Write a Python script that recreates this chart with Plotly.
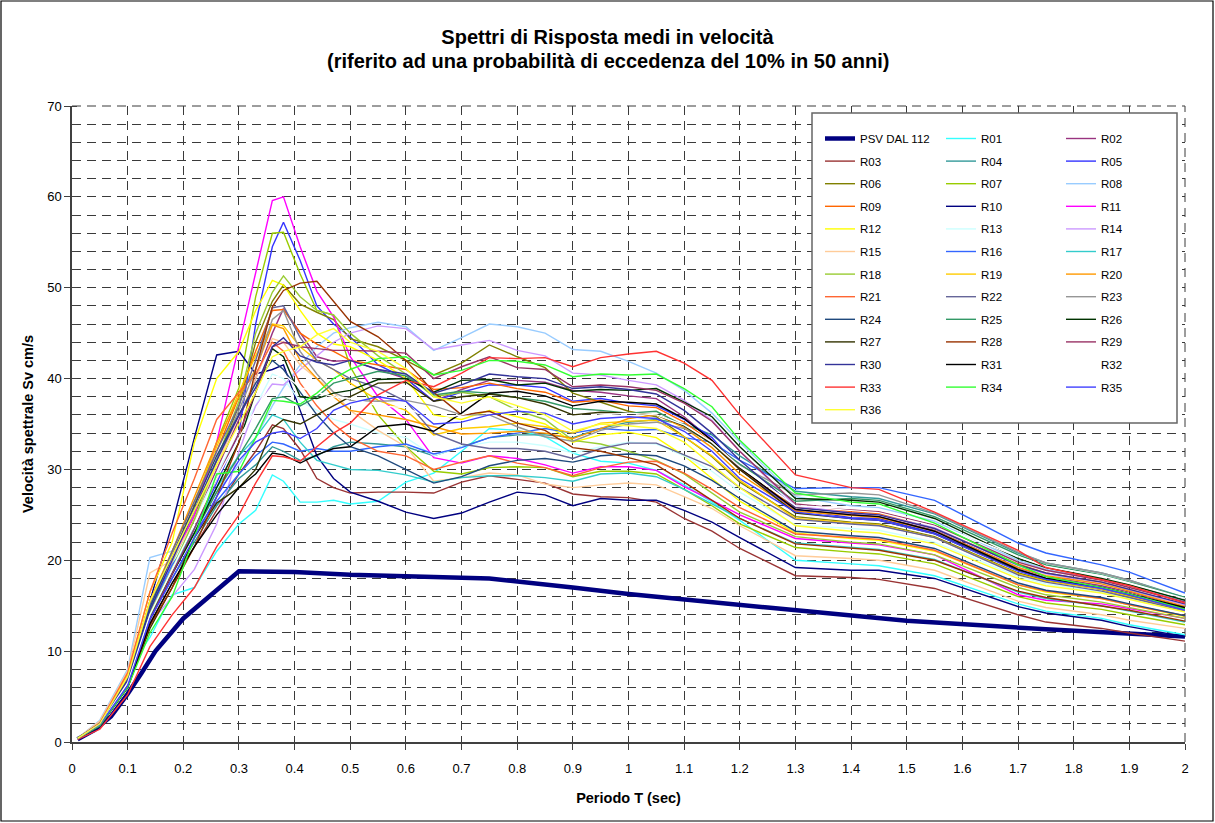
import plotly.graph_objects as go

T = [0.01, 0.05, 0.10, 0.14, 0.18, 0.22, 0.26, 0.30, 0.33, 0.36, 0.38, 0.41, 0.44, 0.47, 0.50,
     0.55, 0.60, 0.65, 0.70, 0.75, 0.80, 0.85, 0.90, 0.95, 1.00, 1.05, 1.10, 1.15, 1.20,
     1.30, 1.40, 1.45, 1.55, 1.70, 1.75, 1.85, 1.90, 2.00]

T_PSV = [0.01, 0.04, 0.07, 0.10, 0.125, 0.15, 0.20, 0.30, 0.40, 0.50, 0.60, 0.75, 0.90, 1.00, 1.25, 1.50, 1.75, 2.00]
PSV = [0.3, 1.3, 2.8, 5.3, 7.6, 10.0, 13.6, 18.8, 18.7, 18.4, 18.25, 18.0, 17.0, 16.3, 14.8, 13.35, 12.4, 11.6]

R01 = [0.4, 2.2, 7.9, 11.5, 16.2, 17.0, 21.0, 24.0, 25.5, 29.4, 28.7, 26.4, 26.4, 26.6, 26.2,
       26.5, 28.6, 29.6, 32.0, 34.5, 34.3, 33.6, 31.8, 30.9, 30.7, 29.9, 28.3, 26.4, 24.4,
       20.0, 19.6, 19.4, 18.3, 15.2, 14.4, 13.6, 12.9, 11.8]
R02 = [0.4, 1.9, 6.6, 14.0, 19.5, 24.5, 30.0, 35.5, 40.0, 45.0, 47.7, 45.0, 42.4, 41.9, 42.0,
       41.0, 40.0, 37.5, 38.8, 39.8, 39.8, 39.6, 38.7, 38.5, 38.1, 37.8, 35.8, 33.2, 30.0,
       25.5, 25.0, 24.8, 23.3, 19.2, 18.2, 17.2, 16.5, 14.9]
R03 = [0.4, 1.9, 6.2, 13.0, 17.5, 21.5, 25.5, 29.5, 32.0, 34.9, 34.5, 32.2, 29.0, 28.0, 27.4,
       27.5, 27.5, 27.4, 28.6, 29.3, 28.9, 28.5, 27.3, 27.0, 26.9, 26.4, 24.6, 23.2, 21.3,
       18.3, 18.1, 17.9, 16.9, 14.0, 13.2, 12.5, 12.0, 11.1]
R04 = [0.4, 1.9, 6.3, 13.5, 18.0, 22.0, 26.0, 29.0, 30.5, 32.5, 32.0, 31.0, 31.5, 32.5, 33.0,
       32.8, 32.5, 31.5, 32.5, 33.5, 33.8, 33.8, 33.5, 34.5, 35.2, 35.5, 35.0, 33.8, 31.5,
       27.6, 27.0, 26.8, 25.1, 20.8, 19.7, 18.6, 17.8, 15.9]
R05 = [0.4, 1.8, 6.0, 13.5, 18.5, 23.5, 28.5, 34.0, 46.0, 54.5, 57.2, 53.0, 48.0, 46.0, 44.6,
       41.5, 40.0, 37.5, 38.5, 39.3, 39.3, 39.0, 37.5, 37.8, 37.3, 37.0, 35.5, 33.5, 30.0,
       25.6, 24.7, 24.6, 23.0, 19.0, 18.0, 16.8, 16.0, 14.4]
R06 = [0.4, 1.9, 6.4, 14.0, 19.5, 25.0, 31.0, 37.0, 44.0, 48.5, 50.3, 48.2, 47.3, 46.5, 44.4,
       43.5, 42.0, 40.4, 41.7, 43.7, 42.4, 41.2, 38.4, 37.4, 36.4, 35.8, 33.6, 31.4, 28.6,
       24.8, 24.2, 24.0, 22.6, 18.6, 17.8, 16.8, 16.1, 14.6]
R07 = [0.4, 1.9, 6.5, 14.0, 19.5, 26.0, 33.0, 39.0, 49.0, 56.0, 56.1, 51.5, 47.5, 47.0, 41.3,
       36.0, 32.5, 29.8, 29.5, 30.2, 30.3, 30.2, 29.2, 29.8, 29.8, 29.5, 27.8, 26.0, 24.0,
       21.4, 20.9, 20.7, 19.6, 16.0, 15.3, 14.6, 14.0, 12.9]
R08 = [0.4, 2.4, 8.0, 20.3, 21.0, 23.5, 27.5, 30.5, 33.5, 37.0, 39.0, 41.5, 43.5, 45.0, 45.6,
       46.2, 45.7, 43.1, 44.5, 46.0, 45.7, 45.0, 43.2, 43.0, 41.9, 40.6, 38.7, 36.2, 33.0,
       27.0, 26.0, 25.8, 24.3, 20.0, 19.0, 17.9, 17.2, 15.5]
R09 = [0.4, 2.0, 6.9, 15.0, 20.5, 26.0, 32.0, 38.0, 43.0, 47.5, 47.6, 45.0, 43.8, 43.0, 42.0,
       41.5, 41.0, 38.8, 39.0, 39.5, 38.9, 38.5, 37.4, 37.6, 37.0, 36.8, 35.2, 33.0, 30.0,
       25.8, 25.3, 25.1, 23.5, 19.6, 18.6, 17.6, 16.8, 15.1]
R10 = [0.4, 2.0, 7.0, 15.5, 24.0, 33.5, 42.6, 43.0, 40.5, 41.0, 41.5, 36.5, 31.5, 29.0, 27.5,
       26.5, 25.3, 24.6, 25.2, 26.4, 27.5, 27.2, 26.0, 26.8, 26.6, 26.6, 25.5, 24.2, 22.5,
       19.2, 18.9, 18.9, 18.0, 14.9, 14.2, 13.4, 12.7, 11.6]
R11 = [0.4, 2.0, 6.8, 14.5, 20.0, 25.0, 33.0, 43.5, 51.5, 59.6, 60.0, 54.5, 49.6, 46.8, 42.4,
       38.0, 35.5, 31.3, 30.7, 31.5, 31.2, 30.5, 29.6, 30.3, 30.3, 29.9, 28.1, 26.6, 25.0,
       22.4, 21.9, 21.7, 20.6, 16.2, 15.6, 15.2, 14.7, 13.6]
R12 = [0.4, 2.1, 7.5, 16.5, 22.0, 33.0, 40.0, 43.0, 47.5, 50.8, 50.3, 47.5, 45.0, 43.8, 43.5,
       42.0, 40.0, 36.0, 35.5, 36.5, 35.8, 35.0, 33.0, 33.8, 34.1, 33.5, 31.5, 29.0, 26.5,
       23.0, 22.4, 22.2, 21.0, 17.3, 16.5, 15.8, 15.1, 13.8]
R13 = [0.4, 2.0, 6.8, 14.5, 19.5, 24.5, 29.5, 34.0, 37.0, 40.5, 40.0, 37.5, 36.5, 35.5, 35.0,
       34.0, 33.5, 31.5, 32.5, 33.0, 33.0, 32.6, 31.8, 32.5, 33.0, 32.8, 31.5, 29.8, 27.5,
       23.9, 23.5, 23.3, 22.0, 18.2, 17.4, 16.5, 15.8, 14.4]
R14 = [0.4, 1.9, 6.2, 13.0, 16.0, 19.0, 24.0, 32.0, 37.0, 39.4, 39.3, 41.0, 42.5, 44.0, 45.0,
       45.8, 45.5, 43.2, 43.7, 44.2, 43.1, 42.5, 40.6, 40.4, 39.8, 39.3, 37.6, 35.4, 32.0,
       26.0, 25.2, 25.0, 23.6, 19.4, 18.5, 17.4, 16.7, 15.1]
R15 = [0.4, 2.3, 7.8, 18.6, 20.0, 24.5, 30.5, 36.0, 40.0, 44.4, 44.0, 41.5, 40.0, 38.5, 36.5,
       34.3, 32.5, 28.7, 29.1, 29.6, 29.4, 28.4, 28.0, 28.3, 28.5, 28.3, 27.0, 25.7, 23.8,
       20.5, 20.2, 20.0, 18.9, 15.5, 14.8, 14.0, 13.4, 12.5]
R16 = [0.4, 1.9, 6.5, 14.5, 19.5, 23.0, 26.5, 29.5, 31.5, 33.0, 32.8, 32.0, 32.3, 32.0, 32.0,
       32.5, 32.8, 31.7, 32.4, 33.5, 34.0, 34.5, 34.0, 34.5, 34.3, 34.4, 33.5, 33.0, 31.0,
       27.9, 28.0, 28.0, 26.6, 21.9, 20.8, 19.5, 18.7, 16.4]
R17 = [0.4, 2.0, 6.9, 14.0, 19.0, 23.5, 28.0, 31.5, 33.5, 36.0, 35.5, 33.0, 31.0, 30.5, 30.0,
       29.9, 29.4, 28.6, 29.1, 29.3, 29.3, 29.1, 28.7, 29.5, 29.6, 29.2, 27.8, 26.2, 24.6,
       21.9, 21.4, 21.2, 20.1, 16.5, 15.8, 15.0, 14.4, 13.2]
R18 = [0.4, 1.9, 6.6, 14.2, 19.0, 24.5, 31.0, 37.5, 45.0, 49.5, 51.3, 49.0, 47.5, 47.0, 45.0,
       42.5, 40.5, 38.0, 38.5, 38.0, 36.5, 35.5, 33.2, 32.8, 32.0, 31.0, 29.5, 27.4, 25.3,
       22.6, 22.0, 21.8, 20.6, 17.0, 16.2, 15.4, 14.8, 13.6]
R19 = [0.4, 2.0, 7.2, 15.5, 21.0, 26.5, 32.5, 38.5, 42.5, 46.0, 45.8, 43.5, 42.0, 41.0, 39.5,
       37.6, 36.5, 33.8, 34.5, 34.7, 35.1, 34.7, 34.0, 35.1, 35.3, 35.4, 33.6, 31.5, 28.8,
       24.6, 24.1, 23.9, 22.5, 18.5, 17.7, 16.8, 16.0, 14.5]
R20 = [0.4, 2.0, 7.0, 15.5, 21.0, 27.0, 33.0, 38.0, 41.0, 45.9, 45.5, 42.0, 40.0, 38.0, 36.5,
       36.0, 35.5, 34.7, 33.9, 34.0, 34.2, 34.0, 33.4, 34.5, 35.6, 36.0, 34.6, 32.4, 29.5,
       25.4, 24.9, 24.7, 23.2, 19.2, 18.3, 17.4, 16.6, 14.9]
R21 = [0.4, 2.1, 7.6, 16.5, 23.0, 29.0, 35.5, 38.5, 40.5, 44.0, 43.0, 39.5, 37.0, 35.0, 33.5,
       32.0, 31.5, 30.0, 30.8, 31.5, 30.7, 30.2, 29.3, 30.2, 30.8, 30.9, 29.6, 27.8, 25.8,
       22.9, 22.5, 22.3, 21.1, 17.3, 16.6, 15.8, 15.1, 13.9]
R22 = [0.4, 2.0, 7.0, 15.0, 21.0, 26.5, 32.0, 37.0, 42.0, 47.8, 48.0, 44.5, 42.0, 41.0, 40.0,
       39.0, 37.5, 34.0, 32.8, 32.3, 32.3, 32.0, 31.2, 32.3, 32.9, 32.9, 31.6, 30.3, 28.0,
       24.5, 24.0, 23.8, 22.5, 18.4, 17.6, 16.6, 15.9, 14.4]
R23 = [0.4, 2.0, 6.8, 14.8, 20.5, 25.5, 31.0, 36.5, 41.0, 46.5, 47.5, 43.0, 40.5, 38.5, 37.6,
       37.5, 37.6, 37.0, 36.0, 36.0, 34.7, 33.6, 33.1, 34.3, 35.0, 35.2, 34.5, 33.0, 30.5,
       27.2, 27.4, 27.2, 25.2, 20.9, 19.7, 18.6, 17.8, 15.8]
R24 = [0.4, 2.0, 6.8, 14.8, 20.5, 26.0, 31.5, 36.0, 39.5, 42.0, 41.0, 38.5, 36.0, 34.0, 32.5,
       31.5, 30.0, 28.5, 29.2, 30.4, 31.0, 31.2, 30.8, 31.5, 31.7, 31.5, 30.4, 28.8, 26.8,
       23.2, 22.7, 22.5, 21.3, 17.5, 16.7, 15.9, 15.2, 13.9]
R25 = [0.4, 1.9, 6.4, 13.8, 18.5, 23.0, 27.5, 31.5, 34.5, 37.8, 38.0, 37.0, 38.0, 39.5, 40.0,
       40.8, 40.3, 38.2, 38.6, 38.4, 37.9, 37.5, 36.7, 36.5, 36.2, 36.4, 34.8, 32.8, 30.6,
       26.5, 26.8, 26.6, 24.8, 20.6, 19.5, 18.4, 17.6, 15.9]
R26 = [0.4, 1.9, 6.3, 13.5, 18.5, 23.0, 28.0, 33.0, 38.5, 43.3, 42.4, 38.0, 37.8, 38.4, 38.7,
       39.9, 40.0, 38.5, 39.8, 39.9, 39.3, 39.5, 38.6, 38.8, 38.7, 38.9, 37.4, 35.8, 32.5,
       26.8, 26.6, 26.4, 24.6, 20.2, 19.2, 18.0, 17.3, 15.6]
R27 = [0.4, 1.8, 6.0, 12.5, 17.0, 22.5, 26.3, 28.0, 30.0, 34.5, 35.5, 35.0, 36.0, 37.0, 38.0,
       39.5, 39.6, 37.5, 38.0, 38.3, 37.9, 37.2, 36.0, 36.3, 36.2, 36.0, 34.8, 32.8, 30.0,
       25.2, 24.6, 24.4, 22.9, 18.9, 18.0, 17.0, 16.3, 14.7]
R28 = [0.4, 1.8, 6.0, 12.8, 17.0, 21.5, 27.0, 33.0, 41.0, 47.9, 49.7, 50.5, 50.7, 48.5, 46.3,
       44.6, 42.0, 38.5, 36.0, 36.4, 35.1, 34.3, 32.4, 32.0, 31.3, 30.5, 28.6, 26.6, 24.6,
       21.8, 21.3, 21.1, 20.0, 16.6, 15.9, 15.0, 14.5, 13.3]
R29 = [0.4, 1.9, 6.4, 13.5, 18.5, 23.5, 29.0, 34.0, 38.5, 43.5, 44.0, 43.5, 43.3, 43.1, 43.1,
       43.0, 42.8, 40.0, 41.3, 42.4, 41.2, 41.0, 39.1, 39.3, 39.1, 38.7, 37.3, 35.3, 32.0,
       26.2, 25.6, 25.4, 23.9, 19.8, 18.9, 17.8, 17.0, 15.4]
R30 = [0.4, 2.0, 6.8, 14.5, 20.0, 25.5, 31.0, 36.0, 39.0, 43.5, 44.5, 42.5, 41.8, 41.5, 42.0,
       41.0, 40.5, 38.4, 39.3, 40.5, 40.2, 40.0, 38.9, 39.1, 38.8, 38.3, 36.5, 34.0, 31.0,
       25.8, 25.2, 25.0, 23.5, 19.5, 18.6, 17.6, 16.8, 15.2]
R31 = [0.4, 1.8, 6.0, 13.0, 17.5, 21.5, 25.0, 28.0, 29.5, 31.8, 31.6, 30.7, 31.6, 32.3, 32.5,
       34.7, 35.0, 34.2, 36.2, 38.4, 38.6, 38.1, 37.0, 37.5, 37.4, 37.2, 35.6, 33.2, 30.2,
       25.6, 25.0, 24.8, 23.2, 19.0, 18.0, 17.0, 16.3, 14.8]
R32 = [0.4, 1.9, 6.5, 14.0, 19.0, 24.0, 29.0, 33.5, 36.5, 40.0, 40.5, 39.0, 38.5, 38.0, 37.8,
       37.0, 36.8, 35.5, 36.0, 36.8, 36.7, 36.3, 35.5, 36.0, 36.2, 36.0, 34.9, 33.0, 30.3,
       26.0, 25.7, 25.5, 24.0, 20.4, 19.3, 18.3, 17.5, 15.8]
R33 = [0.3, 1.4, 5.2, 10.5, 14.0, 17.0, 21.5, 25.0, 28.5, 31.5, 31.4, 30.9, 32.5, 34.0, 35.1,
       38.2, 39.8, 39.1, 40.6, 42.3, 42.2, 42.3, 41.3, 42.3, 42.7, 43.0, 41.7, 39.8, 36.0,
       29.4, 28.0, 27.8, 25.3, 21.1, 19.2, 17.9, 17.2, 15.3]
R34 = [0.4, 1.8, 6.0, 12.0, 16.0, 22.5, 29.5, 29.8, 33.5, 37.6, 37.5, 37.2, 38.4, 40.0, 41.0,
       42.2, 42.4, 40.4, 40.9, 42.0, 41.9, 41.5, 40.2, 40.5, 40.4, 40.5, 38.9, 36.9, 33.2,
       27.4, 26.4, 26.2, 24.1, 19.5, 18.2, 17.0, 16.3, 14.6]
R35 = [0.4, 1.9, 6.2, 13.5, 18.0, 22.5, 27.0, 31.0, 33.0, 34.0, 34.2, 33.4, 34.5, 36.5, 37.3,
       38.0, 37.5, 35.0, 35.2, 36.0, 36.4, 36.2, 35.0, 35.6, 35.8, 35.6, 34.2, 32.0, 29.0,
       25.3, 24.6, 24.4, 22.9, 18.8, 17.9, 16.9, 16.2, 14.5]
R36 = [0.4, 2.0, 7.2, 15.5, 20.5, 25.5, 30.5, 35.0, 38.5, 42.4, 43.0, 43.5, 44.8, 45.5, 44.0,
       43.0, 41.1, 38.0, 37.3, 38.0, 37.0, 36.0, 34.2, 35.0, 34.8, 34.5, 33.0, 30.5, 28.0,
       23.8, 23.2, 23.0, 21.8, 18.0, 17.2, 16.4, 15.7, 14.3]

NAMES = ["R%02d" % i for i in range(1, 37)]
SERIES = [R01, R02, R03, R04, R05, R06, R07, R08, R09, R10, R11, R12, R13, R14, R15, R16, R17, R18,
          R19, R20, R21, R22, R23, R24, R25, R26, R27, R28, R29, R30, R31, R32, R33, R34, R35, R36]
COLORS = ["#33FFFF", "#993380", "#993333", "#339999", "#3333FF", "#808000", "#99CC00", "#99CCFF",
          "#FF6600", "#000080", "#FF00FF", "#FFFF00", "#CCFFFF", "#CC99FF", "#FFCC99", "#3366FF",
          "#33CCCC", "#99CC33", "#FFCC00", "#FF9900", "#FF6633", "#666699", "#969696", "#1F497D",
          "#339966", "#003300", "#333300", "#993300", "#993366", "#333399", "#000000", "#FFFFFF",
          "#FF3333", "#33FF33", "#4040FF", "#FFFF33"]

TITLE_1 = "Spettri di Risposta medi in velocità"
TITLE_2 = "(riferito ad una probabilità di eccedenza del 10% in 50 anni)"

W, H = 1215, 823
L, R, TOP, B = 72, 30, 106, 81
PW, PH = W - L - R, H - TOP - B
FONT = "Liberation Sans, Arial, sans-serif"


def px_x(p):
    return (p - L) / PW


def px_y(p):
    return (H - B - p) / PH


fig = go.Figure()
fig.add_trace(go.Scatter(x=T_PSV, y=PSV, mode="lines", name="PSV DAL 112",
                         line=dict(color="#000080", width=4.5),
                         legend="legend", legendgroup="PSV", hoverinfo="skip"))
for i, (nm, vals, col) in enumerate(zip(NAMES, SERIES, COLORS)):
    leg = ["legend2", "legend3", "legend"][i % 3]
    fig.add_trace(go.Scatter(x=T, y=vals, mode="lines", name=nm,
                             line=dict(color=col, width=1.4),
                             legend=leg, legendgroup=nm, hoverinfo="skip"))

grid_col = "#3a3a3a"
dash = "9px,6px"
tick_font = dict(family=FONT, size=13, color="#000")

legend_common = dict(bgcolor="rgba(0,0,0,0)", borderwidth=0, xanchor="left", yanchor="top",
                     font=dict(family=FONT, size=11.5, color="#000"),
                     traceorder="grouped", tracegroupgap=3.6, itemwidth=30)

fig.update_layout(
    width=W, height=H,
    margin=dict(l=L, r=R, t=TOP, b=B),
    paper_bgcolor="white", plot_bgcolor="white",
    showlegend=True,
    title=dict(text="<b>" + TITLE_1 + "</b>",
               x=0.5, xref="container", xanchor="center", y=1 - 37 / H, yref="container",
               yanchor="middle",
               font=dict(family=FONT, size=20, color="#000")),
    annotations=[
        dict(text="<b>" + TITLE_2 + "</b>", xref="paper", yref="paper",
             x=px_x(W / 2), y=px_y(61), xanchor="center", yanchor="middle", showarrow=False,
             font=dict(family=FONT, size=20, color="#000")),
    ],
    xaxis=dict(range=[0, 2], dtick=0.1, tick0=0, showgrid=True, gridcolor=grid_col, griddash=dash,
               gridwidth=1, zeroline=False, showline=True, linecolor="#404040", linewidth=1.5,
               ticks="outside", ticklen=6, tickcolor="#404040", tickfont=tick_font,
               ticklabelstandoff=8,
               title=dict(text="<b>Periodo T (sec)</b>", standoff=18,
                          font=dict(family=FONT, size=14.5, color="#000"))),
    yaxis=dict(range=[0, 70], dtick=10, tick0=0, showgrid=True, gridcolor=grid_col, griddash=dash,
               gridwidth=1, zeroline=False, showline=True, linecolor="#404040", linewidth=1.5,
               ticks="outside", ticklen=6, tickcolor="#404040", tickfont=tick_font,
               minor=dict(dtick=2, showgrid=True, gridcolor=grid_col, griddash=dash, gridwidth=1,
                          ticks="inside", ticklen=5, tickcolor="#404040"),
               title=dict(text="<b>Velocità spettrale Sv cm/s</b>", standoff=10,
                          font=dict(family=FONT, size=14.5, color="#000"))),
    legend=dict(x=px_x(820), y=px_y(124), **legend_common),
    legend2=dict(x=px_x(941), y=px_y(124), **legend_common),
    legend3=dict(x=px_x(1061), y=px_y(124), **legend_common),
    shapes=[
        dict(type="line", xref="paper", yref="paper", x0=0, x1=1, y0=1, y1=1,
             line=dict(color=grid_col, width=1, dash=dash), layer="below"),
        dict(type="line", xref="paper", yref="paper", x0=1, x1=1, y0=0, y1=1,
             line=dict(color=grid_col, width=1, dash=dash), layer="below"),
        dict(type="rect", xref="paper", yref="paper", x0=px_x(812), x1=px_x(1177), y0=px_y(423), y1=px_y(113),
             fillcolor="white", line=dict(color="#666666", width=1.5), layer="above"),
        dict(type="rect", xref="paper", yref="paper", x0=px_x(1), x1=px_x(1213), y0=px_y(821), y1=px_y(1),
             fillcolor="rgba(0,0,0,0)", line=dict(color="#000000", width=1.2), layer="below"),
    ],
)

fig.write_html("out.html")
